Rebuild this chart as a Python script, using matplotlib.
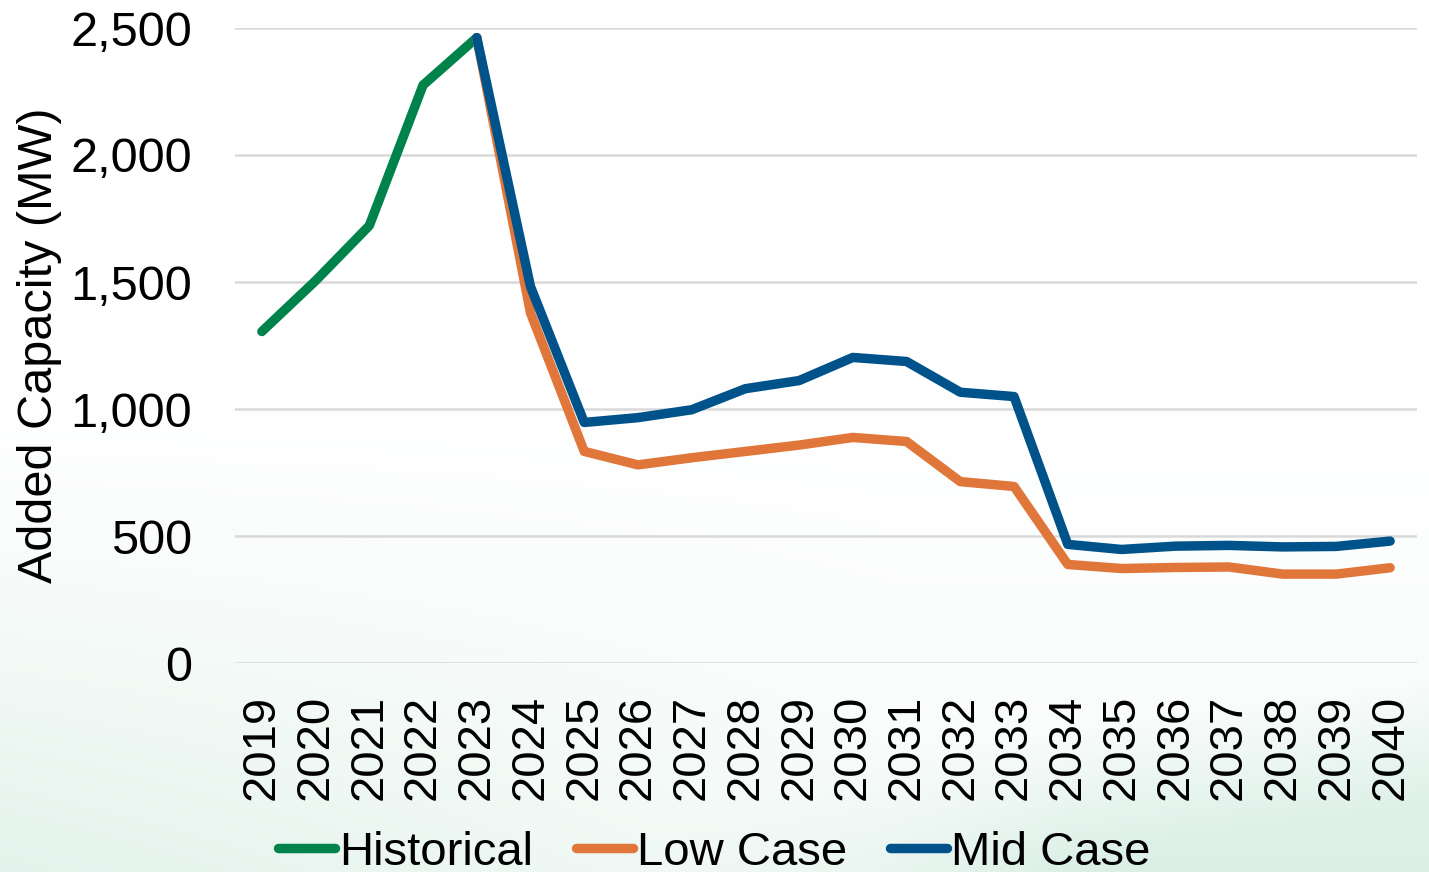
import numpy as np
import matplotlib
matplotlib.use("Agg")
import matplotlib.pyplot as plt
from matplotlib.lines import Line2D

plt.rcParams['font.family'] = ['Liberation Sans', 'DejaVu Sans']

years = [str(y) for y in range(2019, 2041)]

hist_years = ["2019", "2020", "2021", "2022", "2023"]
hist_vals = [1305, 1505, 1722, 2275, 2462]

case_years = [str(y) for y in range(2023, 2041)]
low_vals = [2462, 1378, 833, 780, 808, 833, 858, 888, 872, 714, 695,
            388, 372, 376, 378, 350, 350, 375]
mid_vals = [2462, 1482, 947, 966, 997, 1080, 1112, 1203, 1187, 1066, 1049,
            467, 447, 460, 463, 457, 459, 480]

y_ticks = [0, 500, 1000, 1500, 2000, 2500]

C_HIST = "#00834a"
C_LOW = "#e1763a"
C_MID = "#00528a"
LW = 6.8

W, H, DPI = 1429, 872, 100
fig = plt.figure(figsize=(W / DPI, H / DPI), dpi=DPI)
fig.patch.set_facecolor("white")

# soft green wash across the lower part of the page
bg = fig.add_axes([0, 0, 1, 1], zorder=-10)
bg.set_axis_off()
yy, xx = np.mgrid[0:1:300j, 0:1:500j]  # yy=0 at top
base = np.clip((yy - 0.45) / 0.55, 0, 1) ** 1.3
left = np.clip(1 - xx * 1.6, 0, 1)
diag = np.clip((yy - 0.85 + 0.25 * (xx - 0.7)) / 0.15, 0, 1) * np.clip((xx - 0.45) / 0.3, 0, 1)
t = np.clip(0.55 * base * (0.45 + 0.8 * left) + 0.6 * diag, 0, 1)
white = np.array([1.0, 1.0, 1.0])
mint = np.array([0.84, 0.93, 0.89])
img = white[None, None, :] * (1 - t[..., None]) + mint[None, None, :] * t[..., None]
bg.imshow(img, extent=[0, 1, 0, 1], aspect='auto', origin='upper')
bg.set_xlim(0, 1)
bg.set_ylim(0, 1)

ax = fig.add_axes([235 / W, 1 - 663 / H, (1417 - 235) / W, (663 - 28) / H])
ax.patch.set_alpha(0)

xi = {y: i for i, y in enumerate(years)}
ax.plot([xi[y] for y in hist_years], hist_vals, color=C_HIST, lw=LW,
        solid_capstyle='round', solid_joinstyle='round', zorder=3)
ax.plot([xi[y] for y in case_years], low_vals, color=C_LOW, lw=LW,
        solid_capstyle='round', solid_joinstyle='round', zorder=4)
ax.plot([xi[y] for y in case_years], mid_vals, color=C_MID, lw=LW,
        solid_capstyle='round', solid_joinstyle='round', zorder=5)

ax.set_xlim(-0.5, len(years) - 0.5)
ax.set_ylim(0, 2500)
ax.set_yticks(y_ticks)
ax.set_yticklabels([f"{v:,}" for v in y_ticks])
ax.set_xticks(range(len(years)))
ax.set_xticklabels(years, rotation=90)
ax.tick_params(axis='both', length=0, colors='black')
ax.tick_params(axis='y', labelsize=35, pad=31)
ax.tick_params(axis='x', labelsize=34, pad=23)
ax.grid(axis='y', color='#d9d9d9', lw=1.8)
ax.set_axisbelow(True)
for s in ax.spines.values():
    s.set_visible(False)

ax.set_ylabel("Added Capacity (MW)", fontsize=35, labelpad=6)

handles = [Line2D([], [], color=c, lw=LW, solid_capstyle='round')
           for c in (C_HIST, C_LOW, C_MID)]
fig.legend(handles, ["Historical", "Low Case", "Mid Case"], loc='center',
           bbox_to_anchor=(0.5, 0.022), ncol=3, frameon=False, fontsize=34,
           handlelength=1.2, handletextpad=0.1, columnspacing=0.9)

fig.savefig("out.png", dpi=DPI)
